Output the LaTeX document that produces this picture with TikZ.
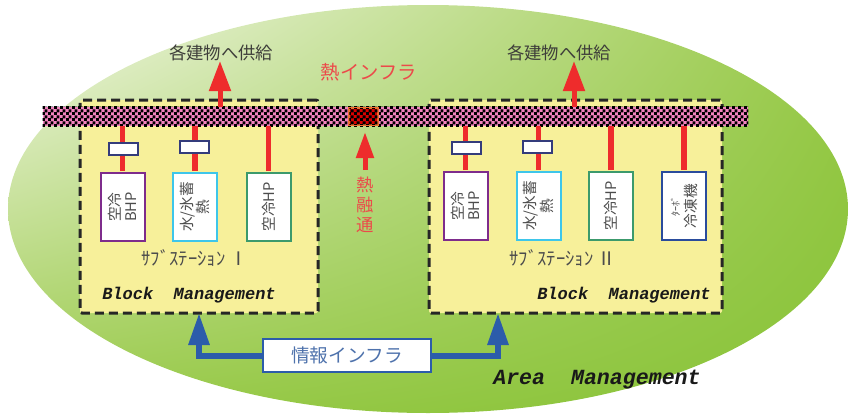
\documentclass[tikz,border=0pt]{standalone}
\usepackage{fontspec}
\setmainfont{Liberation Serif}
\newfontfamily\jp{Noto Sans CJK JP}
\newfontfamily\mono{Liberation Mono}
\usetikzlibrary{arrows.meta,patterns,shadings}
\pgfdeclarepatternformonly{chk}{\pgfpointorigin}{\pgfqpoint{4.5pt}{4.5pt}}{\pgfqpoint{4.5pt}{4.5pt}}{%
  \pgfpathrectangle{\pgfpointorigin}{\pgfqpoint{2.5pt}{2.5pt}}%
  \pgfpathrectangle{\pgfqpoint{2.25pt}{2.25pt}}{\pgfqpoint{2.5pt}{2.5pt}}%
  \pgfusepath{fill}}
\definecolor{yel}{HTML}{F7F09A}
\definecolor{pinkb}{HTML}{F283BE}
\definecolor{hred}{HTML}{EE2C2C}
\definecolor{tred}{HTML}{EC4A4A}
\definecolor{navy}{HTML}{343C7C}
\definecolor{purp}{HTML}{7E2C8C}
\definecolor{cyanb}{HTML}{3EC6EA}
\definecolor{grnb}{HTML}{3C9A6C}
\definecolor{blub}{HTML}{2A4C9C}
\definecolor{infob}{HTML}{2C5CAA}
\definecolor{infot}{HTML}{4E72AC}
\definecolor{orgb}{HTML}{F07030}
\definecolor{supt}{HTML}{3E3E3A}
\definecolor{gUL}{HTML}{F4F8EA}
\definecolor{gUR}{HTML}{98C948}
\definecolor{gLL}{HTML}{9ACA4A}
\definecolor{gLR}{HTML}{88C338}
\tikzset{
  subbox/.style={draw=black!85, fill=yel, line width=2.25pt, dash pattern=on 6.75pt off 3.75pt, rounded corners=1.5pt, minimum height=159.75pt, inner sep=0pt},
  device/.style={draw=#1, line width=1.5pt, fill=white, minimum width=33pt, minimum height=51pt, inner sep=0pt},
  devtext/.style={rotate=90, align=center, font=\jp\fontsize{11pt}{12.5pt}\selectfont, text=black!70},
  valve/.style={draw=navy, line width=1.5pt, fill=white, minimum width=21.75pt, minimum height=9pt, inner sep=0pt},
  redline/.style={draw=hred, line width=4pt},
  redarrow/.style={draw=hred, line width=3.75pt, -{Triangle[width=15.75pt,length=22.5pt]}},
  bluearrow/.style={draw=infob, line width=4.5pt, -{Triangle[width=15pt,length=24pt]}},
  bm/.style={font=\mono\bfseries\itshape\fontsize{12.75pt}{14pt}\selectfont, text=black!90},
  subl/.style={font=\jp\fontsize{14pt}{16pt}\selectfont, text=black!70},
}
\begin{document}
\begin{tikzpicture}[x=0.75pt,y=-0.75pt]
\useasboundingbox (0,0) rectangle (851,415);
% background ellipse
\shade[upper left=gUL, upper right=gUR, lower left=gLL, lower right=gLR]
  (428,209) ellipse [x radius=420, y radius=204];
% substation boxes
\node[subbox, minimum width=178.5pt] (lbox) at (199,206.5) {};
\node[subbox, minimum width=219.75pt] (rbox) at (575.5,206.5) {};
% heat bar
\node[fill=pinkb, minimum width=528.75pt, minimum height=14.25pt, inner sep=0pt] (bar) at (395.5,116.5) {};
\fill[pattern=chk, pattern color=black] (bar.south west) rectangle (bar.north east);
\node[draw=orgb, line width=1.5pt, fill=red!85!black, minimum width=21.75pt, minimum height=12.75pt, inner sep=0pt] (fus) at (363.5,116.5) {};
\fill[pattern=chk, pattern color=black] ([shift={(1pt,1pt)}]fus.south west) rectangle ([shift={(-1pt,-1pt)}]fus.north east);
% devices
\node[device=purp] (L1) at (122.5,207) {};
\node[device=cyanb] (L2) at (195,207) {};
\node[device=grnb] (L3) at (268.5,207) {};
\node[device=purp] (R1) at (465.5,206) {};
\node[device=cyanb] (R2) at (538.5,206) {};
\node[device=grnb] (R3) at (611,206) {};
\node[device=blub] (R4) at (684,206) {};
\foreach \n in {L1,L2,L3,R1,R2,R3,R4}{
  \draw[redline] ([yshift=0.75pt]\n.north) -- (\n.north |- bar.south);
}
\node[devtext] at (L1) {空冷\\BHP};
\node[devtext] at (L2) {水/氷蓄\\熱};
\node[devtext] at (L3) {空冷HP};
\node[devtext] at (R1) {空冷\\BHP};
\node[devtext] at (R2) {水/氷蓄\\熱};
\node[devtext] at (R3) {空冷HP};
\node[devtext] at (R4) {{\fontsize{7.5pt}{9pt}\selectfont ﾀｰﾎﾞ}\\冷凍機};
% valves
\node[valve] (V1) at (123,149) {};
\node[valve] (V2) at (194,147) {};
\node[valve] (V3) at (466,148) {};
\node[valve] (V4) at (537,147) {};
% substation labels
\node[subl] (s1) at (195,258) {ｻﾌﾞｽﾃｰｼｮﾝ Ⅰ};
\node[subl] (s2) at (563,258) {ｻﾌﾞｽﾃｰｼｮﾝ Ⅱ};
\node[bm] (b1) at (189,295) {Block\ \ Management};
\node[bm] (b2) at (624,295) {Block\ \ Management};
% supply arrows and labels
\node[font=\jp\fontsize{13pt}{15pt}\selectfont, text=supt] (sup1) at (221,53) {各建物へ供給};
\node[font=\jp\fontsize{13pt}{15pt}\selectfont, text=supt] (sup2) at (559,53) {各建物へ供給};
\coordinate (t1) at (220,61);
\coordinate (t2) at (574,61);
\draw[redarrow] (bar.north -| t1) -- (t1);
\draw[redarrow] (bar.north -| t2) -- (t2);
\node[font=\jp\fontsize{14.5pt}{16pt}\selectfont, text=tred] (hinfra) at (369,72) {熱インフラ};
% heat fusion
\coordinate (fb) at (365,170);
\coordinate (ft) at (365,132);
\draw[draw=hred, line width=3.75pt, -{Triangle[width=12.75pt,length=19.5pt]}] (fb) -- (ft);
\node[font=\jp\fontsize{13pt}{15pt}\selectfont, text=tred, align=center] (fusion) at (365,205) {熱\\融\\通};
% info infra
\node[draw=infob, line width=1.5pt, fill=white, minimum width=126pt, minimum height=24.75pt, inner sep=0pt, font=\jp\fontsize{14pt}{16pt}\selectfont, text=infot] (info) at (347,355.5) {情報インフラ};
\coordinate (lt) at (199,313);
\coordinate (rt) at (498,313);
\draw[bluearrow] (info.west) -| (lt);
\draw[bluearrow] (info.east) -| (rt);
\node[font=\mono\bfseries\itshape\fontsize{16.2pt}{18pt}\selectfont, text=black!90] (area) at (597,380) {Area\ \ Management};
\end{tikzpicture}
\end{document}
